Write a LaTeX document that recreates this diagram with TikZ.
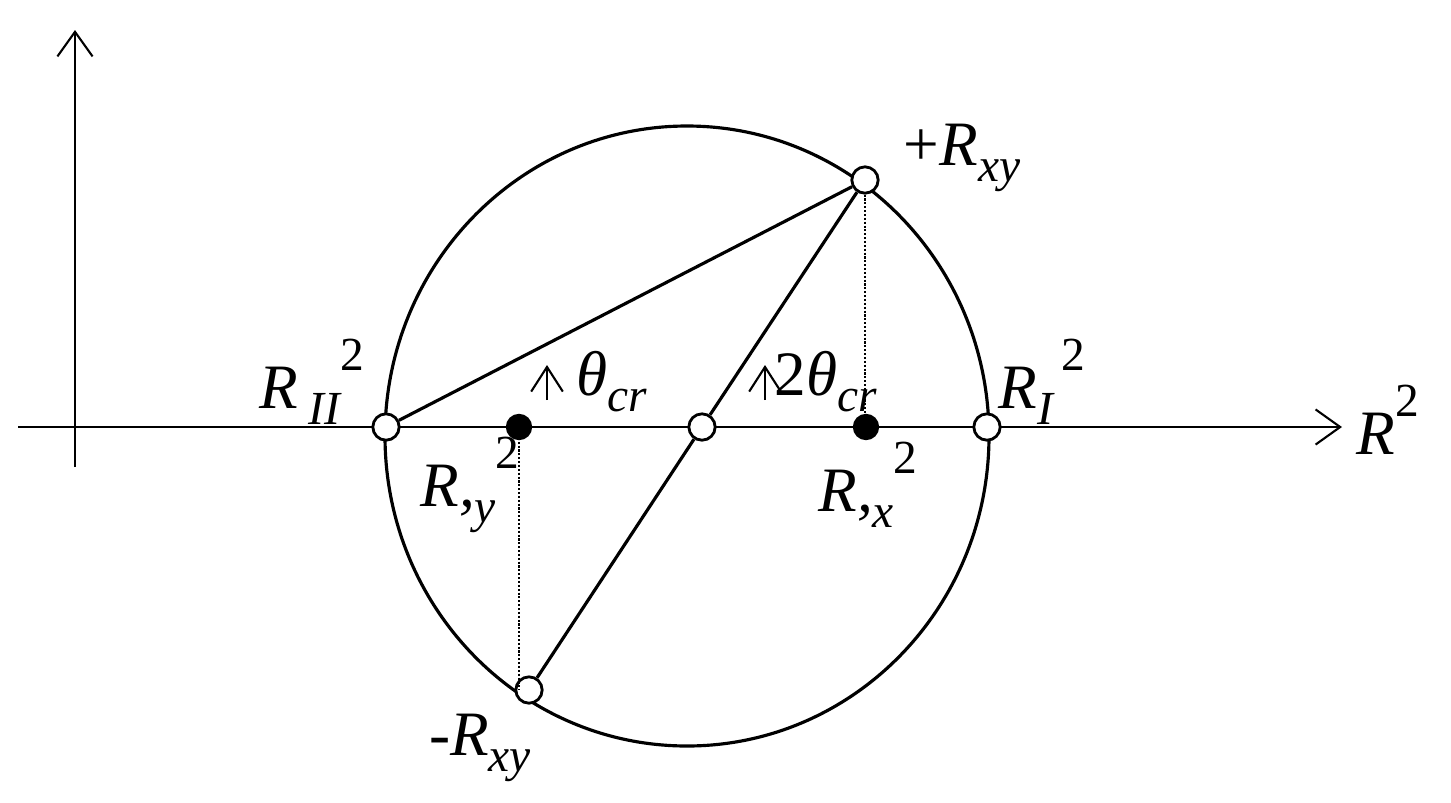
\documentclass[tikz,border=0pt]{standalone}
\usepackage{fontspec}
\setmainfont{Liberation Serif}
\usetikzlibrary{arrows.meta}
\begin{document}
\begin{tikzpicture}[x=0.02cm,y=-0.02cm,line width=1.8pt,
  lbl/.style={font=\fontsize{36}{40}\selectfont\itshape,inner sep=0pt},
  opn/.style={circle,draw,fill=white,inner sep=0pt,minimum size=15pt,line width=1.6pt},
  full/.style={circle,fill=black,inner sep=0pt,minimum size=15pt},
  dot/.style={densely dotted,line width=1.2pt},
  ax/.style={line width=1.2pt,-{Straight Barb[length=14pt,width=20pt]}},
  mk/.style={line width=1.2pt,-{Straight Barb[length=14pt,width=18pt]}}]
\useasboundingbox (0,0) rectangle (1451,802);
\coordinate (h0) at (18,427); \coordinate (h1) at (1342,427);
\coordinate (v0) at (75,467); \coordinate (v1) at (75,30);
\draw[ax] (h0) -- (h1);
\draw[ax] (v0) -- (v1);
\draw (687,436) ellipse (302 and 310);
\node[opn] (c) at (702,427) {};
\node[opn] (r2) at (386,427) {};
\node[opn] (r1) at (987,427) {};
\node[full] (ry) at (519,427) {};
\node[full] (rx) at (866,427) {};
\node[opn] (p) at (865,180) {};
\node[opn] (m) at (529,690) {};
\coordinate (px) at (865,427);
\coordinate (my) at (519,690);
\draw (r2) -- (p);
\draw (m) -- (c) -- (p);
\draw[dot] (p) -- (px);
\draw[dot] (ry) -- (my);
\coordinate (a1) at (547,400); \coordinate (a1t) at (547,365);
\coordinate (a2) at (765,400); \coordinate (a2t) at (765,365);
\draw[mk] (a1) -- (a1t);
\draw[mk] (a2) -- (a2t);
\node[lbl] (l1) at (312,382) {R\,\raisebox{-0.25em}{\fontsize{27}{30}\selectfont II}\raisebox{0.6em}{\upshape\fontsize{27}{30}\selectfont 2}};
\node[lbl] (l2) at (1042,382) {R\raisebox{-0.25em}{\fontsize{27}{30}\selectfont I}\raisebox{0.6em}{\upshape\fontsize{27}{30}\selectfont \,2}};
\node[lbl] (l3) at (612,382) {θ\raisebox{-0.25em}{\fontsize{27}{30}\selectfont cr}};
\node[lbl] (l4) at (826,382) {\upshape 2\itshape θ\raisebox{-0.25em}{\fontsize{27}{30}\selectfont cr}};
\node[lbl] (l5) at (1388,420) {R\raisebox{0.6em}{\upshape\fontsize{27}{30}\selectfont 2}};
\node[lbl] (l6) at (962,158) {\upshape +\itshape R\raisebox{-0.25em}{\fontsize{27}{30}\selectfont xy}};
\node[lbl] (l7) at (470,485) {R,\raisebox{-0.25em}{\fontsize{27}{30}\selectfont y}\raisebox{0.6em}{\upshape\fontsize{27}{30}\selectfont 2}};
\node[lbl] (l8) at (868,485) {R,\raisebox{-0.25em}{\fontsize{27}{30}\selectfont x}\raisebox{0.6em}{\upshape\fontsize{27}{30}\selectfont 2}};
\node[lbl] (l9) at (480,748) {\upshape -\itshape R\raisebox{-0.25em}{\fontsize{27}{30}\selectfont xy}};
\end{tikzpicture}
\end{document}
